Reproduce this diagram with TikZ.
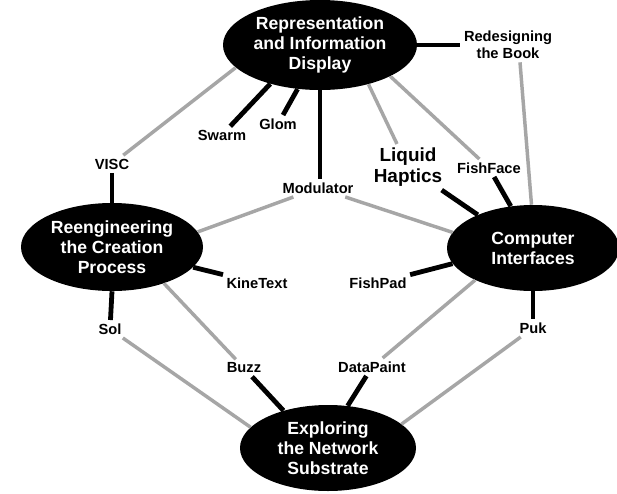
\documentclass[tikz,border=0pt]{standalone}
\usepackage{fontspec}
\setmainfont{Liberation Sans}
\usetikzlibrary{shapes.geometric}
\begin{document}
\begin{tikzpicture}[x=0.75pt,y=-0.75pt,
  topic/.style={ellipse, fill=black, text=white, inner sep=0pt, align=center,
    font=\bfseries\fontsize{13.2}{15}\selectfont},
  proj/.style={inner sep=2.5pt, align=center, font=\bfseries\fontsize{11}{12.5}\selectfont},
  bigproj/.style={inner sep=2.5pt, align=center, font=\bfseries\fontsize{14.2}{16}\selectfont},
  strong/.style={draw=black, line width=3.6pt},
  weak/.style={draw=black!35, line width=2.6pt}]
\useasboundingbox[fill=white] (0,0) rectangle (617,493);

% main topics
\node[topic, minimum width=145.5pt, minimum height=67.5pt] (T) at (320,45)
  {Representation\\and Information\\Display};
\node[topic, minimum width=136.5pt, minimum height=66pt] (R) at (112,247)
  {Reengineering\\the Creation\\Process};
\node[topic, minimum width=129pt, minimum height=64.5pt] (C) at (533,248)
  {Computer\\Interfaces};
\node[topic, minimum width=132pt, minimum height=64.5pt] (B) at (328,448)
  {Exploring\\the Network\\Substrate};

% projects
\node[proj] (rb) at (508,45) {Redesigning\\the Book};
\node[proj] (swarm) at (222,135) {Swarm};
\node[proj] (glom) at (278,124) {Glom};
\node[proj] (visc) at (112,164) {VISC};
\node[proj] (mod) at (318,188) {Modulator};
\node[bigproj] (lh) at (408,167) {Liquid\\Haptics};
\node[proj] (ff) at (489,168) {FishFace};
\node[proj] (kt) at (257,283) {KineText};
\node[proj] (fp) at (378,283) {FishPad};
\node[proj] (sol) at (110,329) {Sol};
\node[proj] (puk) at (533,328) {Puk};
\node[proj] (buzz) at (244,368) {Buzz};
\node[proj] (dp) at (372,367) {DataPaint};

% connectors to Representation and Information Display
\draw[strong] (T.east) -- (rb.west);
\draw[strong] (T.-117) -- (glom);
\draw[strong] (T.-142) -- (swarm);
\draw[strong] (T.south) -- (T.south |- mod.north);
\draw[weak] (T.-165) -- (visc);
\draw[weak] (T.-39) -- (lh);
\draw[weak] (T.-24) -- (ff);

% connectors to Computer Interfaces
\draw[weak] ([xshift=9pt]rb.south) -- (C.92);
\draw[strong] (lh) -- (C.149);
\draw[strong] (ff) -- (C.118);
\draw[strong] (fp) -- (C.-169);
\draw[strong] (C.south) -- (puk);
\draw[weak] (C.-151) -- (dp);
\draw[weak] (mod) -- (C.169);

% connectors to Reengineering the Creation Process
\draw[strong] (visc) -- (visc |- R.north);
\draw[weak] (mod) -- (R.10);
\draw[strong] (R.-14) -- (kt);
\draw[strong] (R.south) -- (sol);
\draw[weak] (R.-35) -- (buzz);

% connectors to Exploring the Network Substrate
\draw[weak] (sol) -- (B.165);
\draw[strong] (buzz) -- (B.140);
\draw[strong] (dp) -- (B.65);
\draw[weak] (puk) -- (B.18);
\end{tikzpicture}
\end{document}
